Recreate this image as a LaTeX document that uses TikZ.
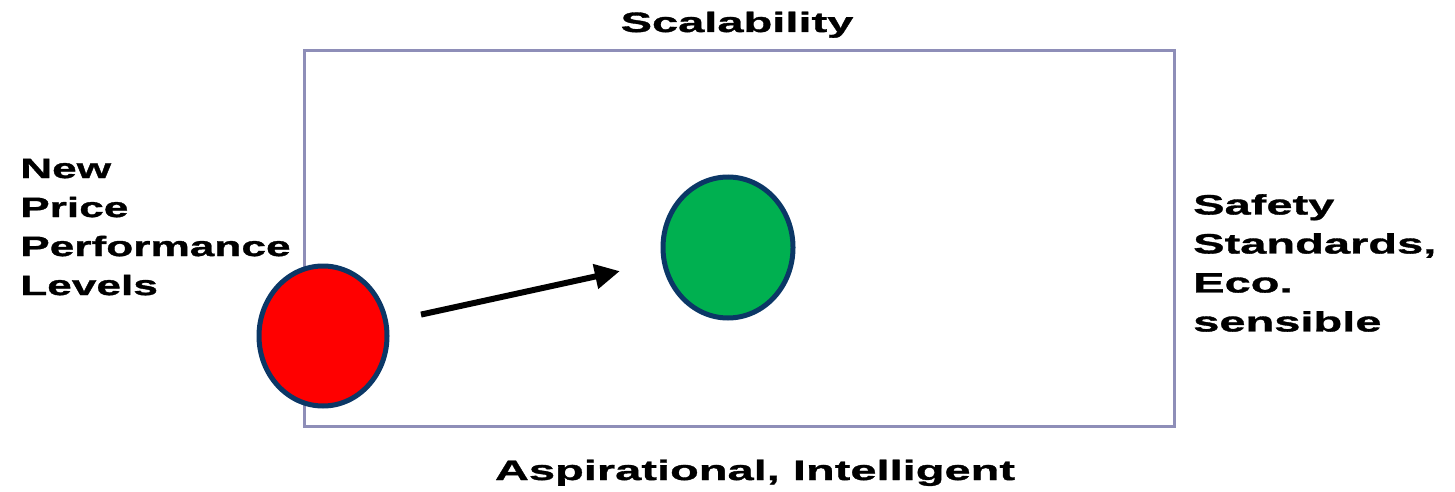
\documentclass[tikz,border=0pt]{standalone}
\usepackage{fontspec}
\setmainfont{Liberation Sans}[FakeStretch=1.68,FakeBold=1.2]
\newfontfamily\leftfont{Liberation Sans}[FakeStretch=1.58,FakeBold=1.2]
\usetikzlibrary{arrows.meta,shapes.geometric,calc}
\definecolor{boxline}{HTML}{8E8EB8}
\definecolor{navy}{HTML}{0B3766}
\definecolor{gfill}{HTML}{00B050}
\definecolor{rfill}{HTML}{FF0000}
\tikzset{
  lbl/.style={inner sep=0pt, font=\fontsize{28}{39}\selectfont\bfseries, text=black},
  dot/.style={ellipse, draw=navy, line width=5pt, inner sep=0pt},
  movearrow/.style={line width=6pt, -{Triangle[length=25pt,width=24pt]}}
}
\begin{document}
\begin{tikzpicture}[x=1pt,y=-1pt]
\useasboundingbox (0,0) rectangle (1455,492);
\node[draw=boxline, line width=3pt, minimum width=870pt, minimum height=376pt, inner sep=0pt, anchor=north west] (frame) at (303,49) {};
\node[lbl, anchor=base] (top) at (737,32) {Scalability};
\node[lbl, anchor=base] (bottom) at (755,480) {Aspirational, Intelligent};
\node[lbl, font=\leftfont\fontsize{28}{39}\selectfont\bfseries, anchor=north west, align=left] (left) at (20,158.6) {New\\Price\\Performance\\Levels};
\node[lbl, anchor=north west, align=left] (right) at (1193,194) {Safety\\Standards,\\Eco.\\sensible};
\node[dot, fill=rfill, minimum width=128pt, minimum height=140pt] (red) at (323,336) {};
\node[dot, fill=gfill, minimum width=130pt, minimum height=141pt] (green) at (728,247.5) {};
\coordinate (a) at ($(red)!0.242!(green)$);
\coordinate (b) at ($(red)!0.733!(green)$);
\draw[movearrow] (a) -- (b);
\end{tikzpicture}
\end{document}
